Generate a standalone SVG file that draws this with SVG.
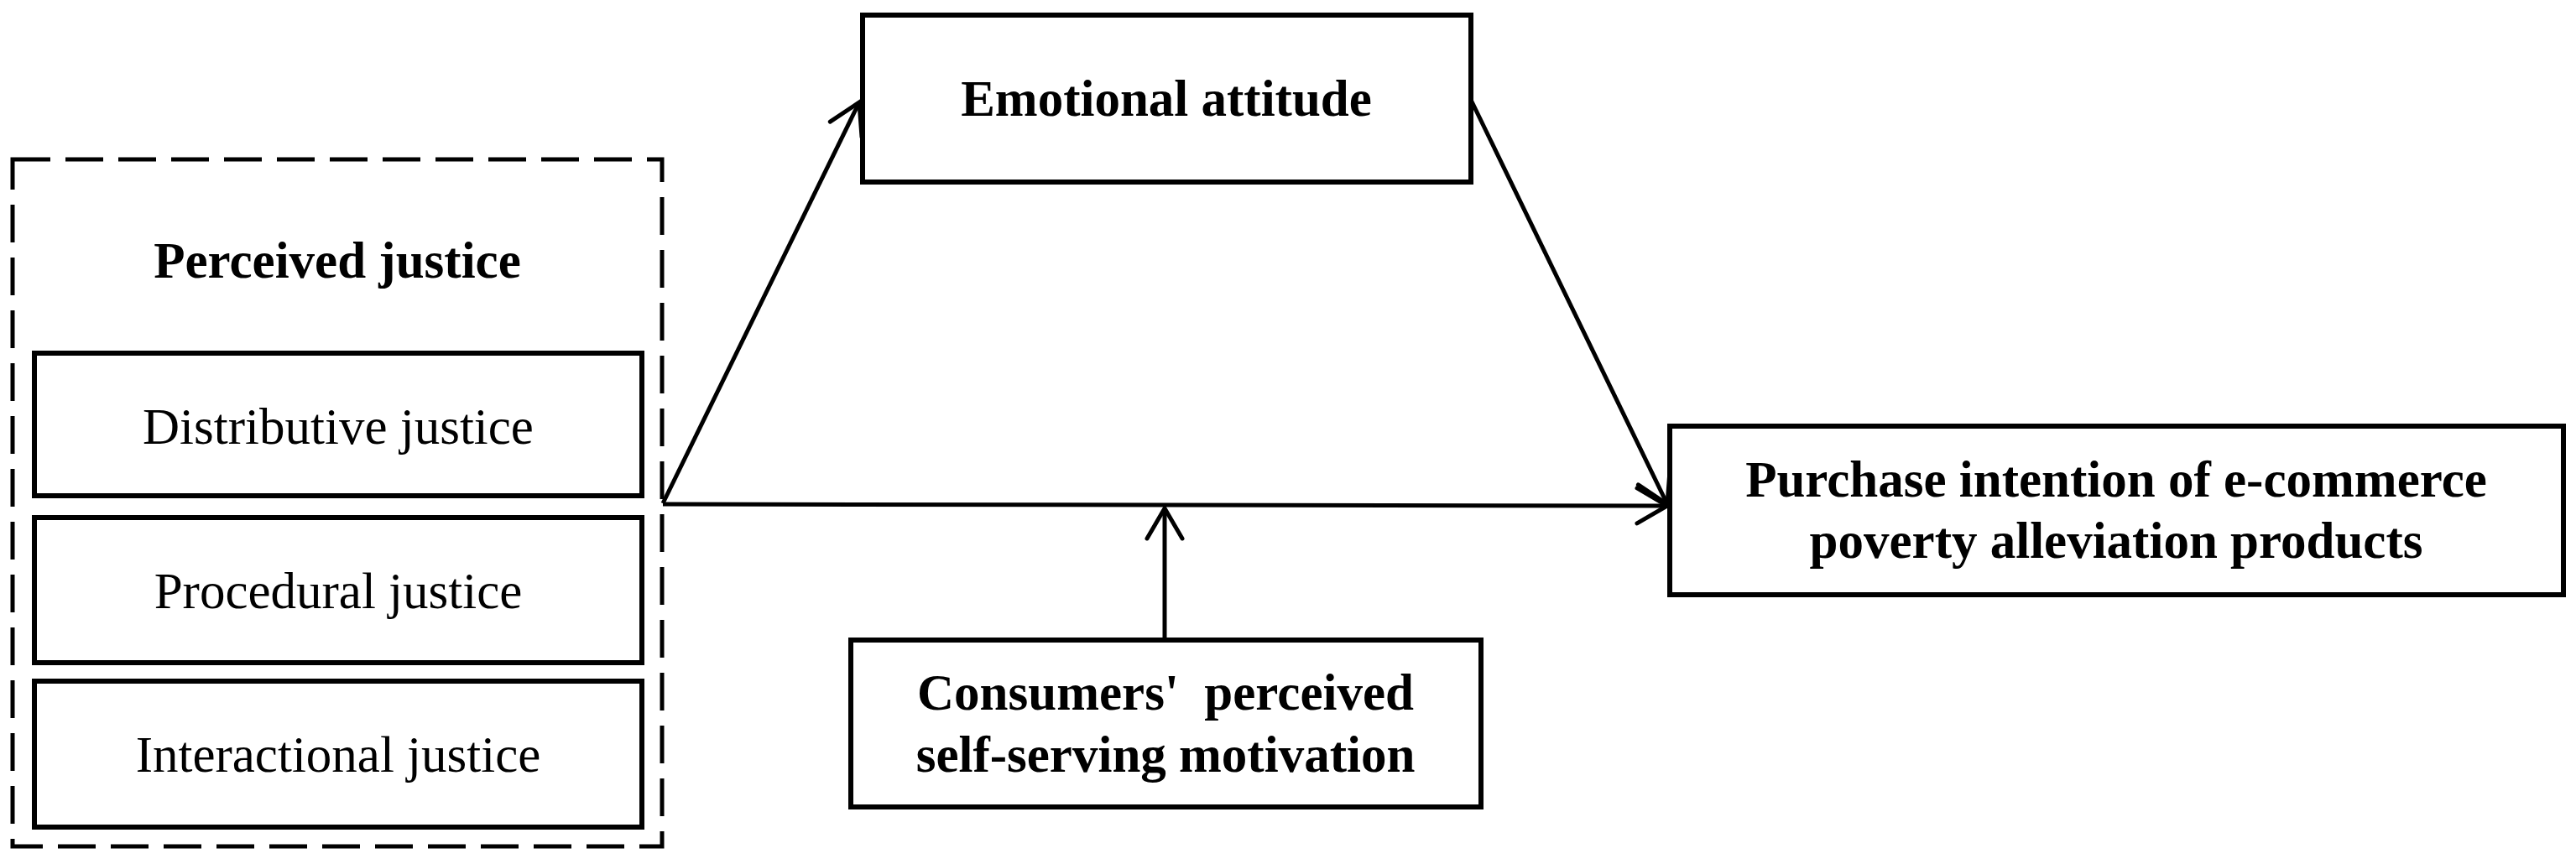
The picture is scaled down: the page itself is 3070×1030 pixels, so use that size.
<svg xmlns="http://www.w3.org/2000/svg" width="3070" height="1030" viewBox="0 0 3070 1030">
<style>
.box{fill:#fff;stroke:#000;stroke-width:6}
.dash{fill:none;stroke:#000;stroke-width:5;stroke-dasharray:45 18}
.t{font-family:"Liberation Serif","Times New Roman",serif;font-size:61px;fill:#000;text-anchor:middle}
.b{font-weight:bold}
.c{fill:none;stroke:#000;stroke-width:5}
</style>
<defs>
<marker id="arr" markerUnits="userSpaceOnUse" markerWidth="60" markerHeight="60" viewBox="-45 -30 50 60" refX="0" refY="0" orient="auto">
<path d="M -36 -21 L 0 0 L -36 21" fill="none" stroke="#000" stroke-width="5" stroke-linecap="round" stroke-linejoin="miter"/>
</marker>
</defs>
<rect width="3070" height="1030" fill="#fff"/>
<g id="perceived-justice">
<rect class="dash" x="15" y="190" width="774" height="819"/>
<text class="t b" x="402" y="331">Perceived justice</text>
</g>
<g id="distributive-justice">
<rect class="box" x="41" y="421" width="724" height="170"/>
<text class="t" x="403" y="529">Distributive justice</text>
</g>
<g id="procedural-justice">
<rect class="box" x="41" y="617" width="724" height="173"/>
<text class="t" x="403" y="725">Procedural justice</text>
</g>
<g id="interactional-justice">
<rect class="box" x="41" y="812" width="724" height="174"/>
<text class="t" x="403" y="920">Interactional justice</text>
</g>
<g id="emotional-attitude">
<rect class="box" x="1028" y="18" width="725" height="199"/>
<text class="t b" x="1390" y="138">Emotional attitude</text>
</g>
<g id="purchase-intention">
<rect class="box" x="1990" y="508" width="1065" height="201"/>
<text class="t b" x="2522" y="592">Purchase intention of e-commerce</text>
<text class="t b" x="2522" y="665">poverty alleviation products</text>
</g>
<g id="self-serving-motivation">
<rect class="box" x="1014" y="763" width="751" height="199"/>
<text class="t b" x="1389" y="846" xml:space="preserve">Consumers'  perceived</text>
<text class="t b" x="1389" y="920">self-serving motivation</text>
</g>
<g id="connectors">
<line class="c" x1="790" y1="600" x2="1024" y2="122" marker-end="url(#arr)"/>
<line class="c" x1="790" y1="601" x2="1987" y2="603" marker-end="url(#arr)"/>
<line class="c" x1="1753" y1="119" x2="1987" y2="601" marker-end="url(#arr)"/>
<line class="c" x1="1388" y1="763" x2="1388" y2="606" marker-end="url(#arr)"/>
</g>
</svg>
